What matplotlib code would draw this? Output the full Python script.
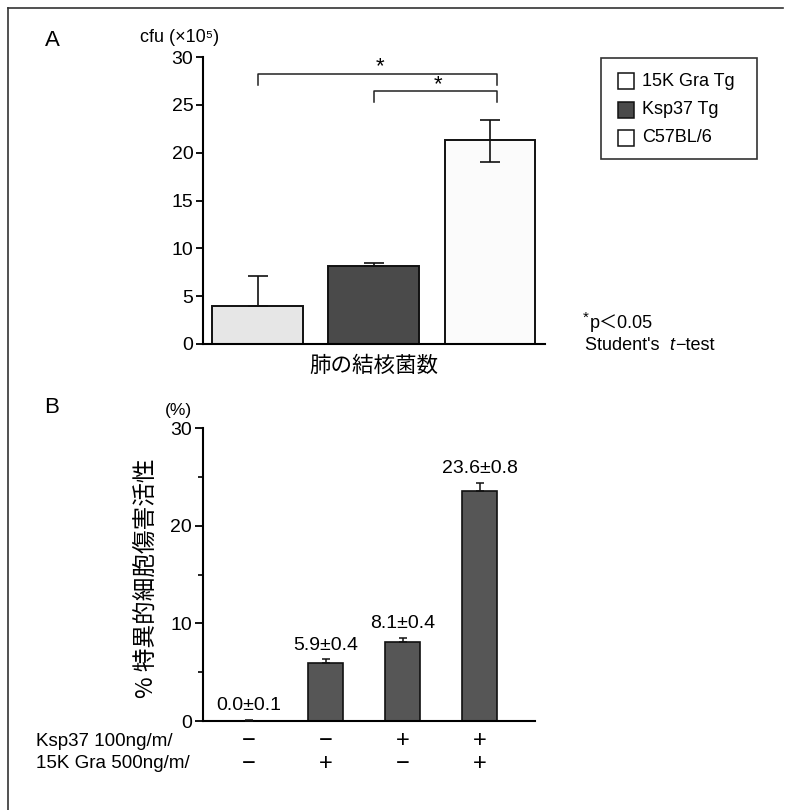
import matplotlib
matplotlib.use("Agg")
import matplotlib.pyplot as plt
from matplotlib.patches import Rectangle
from matplotlib.lines import Line2D
from matplotlib.transforms import blended_transform_factory

plt.rcParams['font.family'] = ['Liberation Sans', 'DejaVu Sans', 'Noto Sans CJK JP']

# ---------------- data ----------------
groups_a = ["15K Gra Tg", "Ksp37 Tg", "C57BL/6"]
cfu_values = [4.0, 8.2, 21.3]
cfu_err_up = [3.1, 0.3, 2.1]
cfu_err_down = [0.0, 0.0, 2.3]
sig_pairs = [(0, 2), (1, 2)]
sig_heights = [28.2, 26.4]
a_yticks = [0, 5, 10, 15, 20, 25, 30]

b_values = [0.0, 5.9, 8.1, 23.6]
b_err = [0.1, 0.4, 0.4, 0.8]
b_labels = ["0.0±0.1", "5.9±0.4", "8.1±0.4", "23.6±0.8"]
ksp37_row = ["−", "−", "+", "+"]
gra_row = ["−", "+", "−", "+"]
row_names = ["Ksp37 100ng/m/", "15K Gra 500ng/m/"]
b_yticks_major = [0, 10, 20, 30]
b_yticks_minor = [5, 15, 25]

# ---------------- figure ----------------
W, H = 788, 810
fig = plt.figure(figsize=(W / 100, H / 100), dpi=100)
fig.patch.set_facecolor("white")


def rect(l, r, t, b):
    return [l / W, 1 - b / H, (r - l) / W, (b - t) / H]


def fx(x):
    return x / W


def fy(y):
    return 1 - y / H


# outer frame (top and left)
fig.add_artist(Line2D([fx(8), fx(783)], [fy(8), fy(8)], color="#333333", lw=1.2))
fig.add_artist(Line2D([fx(8), fx(8)], [fy(8), fy(812)], color="#333333", lw=1.2))

FS = 13
TFS = 14

# ---------------- panel A ----------------
axA = fig.add_axes(rect(203, 545, 57, 344))
xa = list(range(len(cfu_values)))
colorsA = ["#e6e6e6", "#4a4a4a", "#fbfbfb"]
axA.bar(xa, cfu_values, width=0.78, color=colorsA, edgecolor="#111111", linewidth=1.4, zorder=2)
axA.errorbar(xa, cfu_values, yerr=[cfu_err_down, cfu_err_up], fmt="none",
             ecolor="#111111", elinewidth=1.2, capsize=7, capthick=1.2, zorder=3)
axA.set_xlim(-0.469, 2.473)
axA.set_ylim(0, 30)
axA.set_yticks(a_yticks)
axA.set_xticks([])
for s in ["top", "right"]:
    axA.spines[s].set_visible(False)
for s in ["left", "bottom"]:
    axA.spines[s].set_linewidth(1.5)
axA.tick_params(axis="y", direction="out", length=5, width=1.3, labelsize=TFS, pad=2)

for (i, j), h in zip(sig_pairs, sig_heights):
    axA.plot([i, i, j + 0.06, j + 0.06], [h - 1.1, h, h, h - 1.1], color="#222222", lw=1.1,
             clip_on=False)
    axA.text((i + j) / 2 + 0.05, h + 0.75, "*", ha="center", va="center", fontsize=16,
             clip_on=False)

fig.text(fx(52), fy(41), "A", fontsize=16, ha="center", va="center")
fig.text(fx(219), fy(37), "cfu (×10⁵)", fontsize=13, ha="right", va="center")
fig.text(fx(374), fy(366), "肺の結核菌数", fontsize=15.5, ha="center", va="center",
         family=["Noto Sans CJK JP"])

# legend box
fig.add_artist(Rectangle((fx(601), fy(159)), fx(757) - fx(601), fy(58) - fy(159),
                         transform=fig.transFigure, fill=False, edgecolor="#333333", lw=1.2))
leg_y = [81, 110, 138]
leg_fc = ["white", "#4a4a4a", "white"]
for yy, fc, name in zip(leg_y, leg_fc, groups_a):
    fig.add_artist(Rectangle((fx(618), fy(yy + 8)), 16 / W, 16 / H, transform=fig.transFigure,
                             facecolor=fc, edgecolor="#111111", lw=1.1))
    fig.text(fx(642), fy(yy), name, fontsize=FS, ha="left", va="center")

fig.text(fx(583), fy(318), "*", fontsize=11, ha="left", va="center")
fig.text(fx(590), fy(323), "p＜0.05", fontsize=FS, ha="left", va="center")
t1 = fig.text(fx(585), fy(345), "Student's  ", fontsize=FS, ha="left", va="center")
fig.canvas.draw()
r = fig.canvas.get_renderer()
bb = t1.get_window_extent(r)
t2 = fig.text(bb.x1 / W, fy(345), "t", fontsize=FS, style="italic", ha="left", va="center")
bb2 = t2.get_window_extent(r)
fig.text(bb2.x1 / W + 1 / W, fy(345), "−test", fontsize=FS, ha="left", va="center")

# ---------------- panel B ----------------
axB = fig.add_axes(rect(203, 535, 428, 721))
xb = list(range(len(b_values)))
axB.bar(xb, b_values, width=0.455, color="#565656", edgecolor="#111111", linewidth=1.2, zorder=2)
axB.errorbar(xb, b_values, yerr=[[0] * len(b_err), b_err], fmt="none", ecolor="#111111",
             elinewidth=1.1, capsize=3, capthick=1.1, zorder=3)
for x, v, e, lab in zip(xb, b_values, b_err, b_labels):
    axB.annotate(lab, (x, v + e), xytext=(0, 4), textcoords="offset points",
                 ha="center", va="bottom", fontsize=TFS)
axB.set_xlim(-0.6, 3.72)
axB.set_ylim(0, 30)
axB.set_yticks(b_yticks_major)
axB.set_yticks(b_yticks_minor, minor=True)
axB.set_xticks([])
for s in ["top", "right"]:
    axB.spines[s].set_visible(False)
for s in ["left", "bottom"]:
    axB.spines[s].set_linewidth(1.5)
axB.tick_params(axis="y", which="major", direction="out", length=6, width=1.3, labelsize=TFS, pad=2)
axB.tick_params(axis="y", which="minor", direction="out", length=3.5, width=1.2)

fig.text(fx(52), fy(408), "B", fontsize=16, ha="center", va="center")
fig.text(fx(178), fy(411), "(%)", fontsize=12.5, ha="center", va="center")
fig.text(fx(146), fy(578), "% 特異的細胞傷害活性", fontsize=17, rotation=90,
         ha="center", va="center", family=["Noto Sans CJK JP"])

tr = blended_transform_factory(axB.transData, fig.transFigure)
for row_y, name, signs in zip([741, 764], row_names, [ksp37_row, gra_row]):
    fig.text(fx(36), fy(row_y), name, fontsize=13.5, ha="left", va="center")
    for x, s in zip(xb, signs):
        axB.text(x, fy(row_y), s, transform=tr, fontsize=17, ha="center", va="center")

fig.savefig("out.png", dpi=100, facecolor="white")
